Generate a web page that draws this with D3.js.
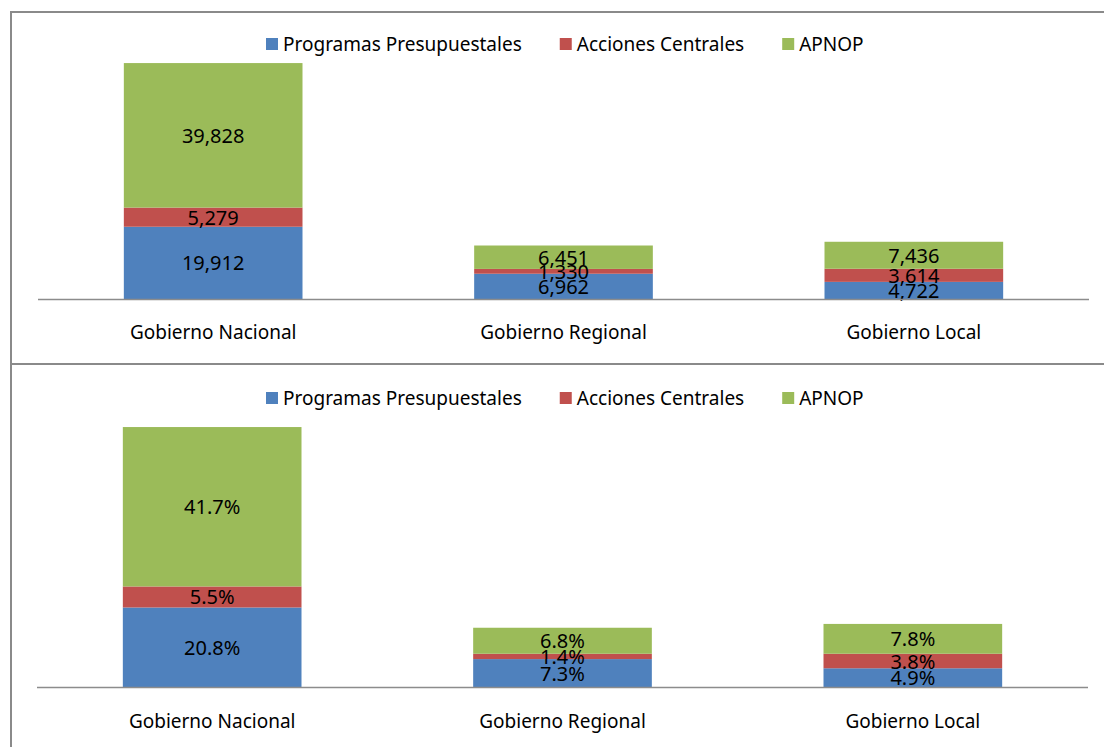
<!DOCTYPE html>
<html>
<head>
<meta charset="utf-8">
<script src="https://cdn.jsdelivr.net/npm/d3@7"></script>
<style>
  html, body { margin: 0; padding: 0; background: #fff; }
  svg { display: block; }
  text { font-family: "Noto Sans", "Open Sans", sans-serif; fill: #000; }
</style>
</head>
<body>
<svg id="chart" width="1104" height="747"></svg>
<script>
// ---- data ----
const categories = ["Gobierno Nacional", "Gobierno Regional", "Gobierno Local"];
const seriesNames = ["Programas Presupuestales", "Acciones Centrales", "APNOP"];
const seriesColors = ["#4F81BD", "#C0504D", "#9BBB59"];

// Top chart: amounts
const programasAmt = [19912, 6962, 4722];
const accionesAmt  = [5279, 1330, 3614];
const apnopAmt     = [39828, 6451, 7436];

// Bottom chart: shares (%)
const programasPct = [20.8, 7.3, 4.9];
const accionesPct  = [5.5, 1.4, 3.8];
const apnopPct     = [41.7, 6.8, 7.8];

const amtMax = 70000;
const pctMax = 70;

const svg = d3.select("#chart");

// panel borders
svg.append("rect").attr("x", 11).attr("y", 12).attr("width", 1110).attr("height", 352)
  .attr("fill", "none").attr("stroke", "#8a8a8a").attr("stroke-width", 2);
svg.append("rect").attr("x", 11).attr("y", 364).attr("width", 1110).attr("height", 400)
  .attr("fill", "none").attr("stroke", "#8a8a8a").attr("stroke-width", 2);

function drawPanel(opts) {
  const { series, max, yBase, yTop, legendY, labelY, fmt, xShift } = opts;
  const g = svg.append("g");

  const rows = categories.map((c, i) => {
    const r = { cat: c };
    seriesNames.forEach((s, k) => r[s] = series[k][i]);
    return r;
  });
  const stacked = d3.stack().keys(seriesNames)(rows);

  const x = d3.scaleBand().domain(categories)
    .range([37 + xShift, 1088 + xShift]).paddingInner(0.49).paddingOuter(0.245);
  const y = d3.scaleLinear().domain([0, max]).range([yBase, yTop]);

  // bars
  stacked.forEach((layer, k) => {
    g.selectAll(null).data(layer).enter().append("rect")
      .attr("x", d => x(d.data.cat))
      .attr("width", x.bandwidth())
      .attr("y", d => y(d[1]))
      .attr("height", d => y(d[0]) - y(d[1]))
      .attr("fill", seriesColors[k]);
  });

  // data labels
  stacked.forEach((layer, k) => {
    g.selectAll(null).data(layer).enter().append("text")
      .attr("x", d => x(d.data.cat) + x.bandwidth() / 2)
      .attr("y", d => (y(d[0]) + y(d[1])) / 2)
      .attr("text-anchor", "middle")
      .attr("dominant-baseline", "central")
      .attr("font-size", 20)
      .text(d => fmt(d.data[seriesNames[k]]));
  });

  // category axis
  const axis = d3.axisBottom(x).tickSize(0).tickPadding(0);
  const ag = g.append("g").attr("transform", `translate(0,${yBase})`).call(axis);
  ag.select(".domain").attr("stroke", "#8c8c8c").attr("stroke-width", 1.5)
    .attr("d", `M${37 + xShift},0.5H${1088 + xShift}`);
  ag.selectAll(".tick text")
    .attr("y", labelY - yBase)
    .attr("dy", null)
    .attr("dominant-baseline", "central")
    .attr("font-size", 19)
    .attr("font-family", "Noto Sans, Open Sans, sans-serif")
    .attr("fill", "#000");

  // legend
  const lg = g.append("g");
  let cx = 266;
  seriesNames.forEach((s, k) => {
    lg.append("rect").attr("x", cx).attr("y", legendY - 6).attr("width", 12).attr("height", 12)
      .attr("fill", seriesColors[k]);
    const t = lg.append("text").attr("x", cx + 17).attr("y", legendY)
      .attr("dominant-baseline", "central").attr("font-size", 19).text(s);
    const w = t.node().getComputedTextLength();
    cx = cx + 17 + w + 38;
  });
}

const fmtAmt = d3.format(",");
const fmtPct = v => v.toFixed(1) + "%";

drawPanel({
  series: [programasAmt, accionesAmt, apnopAmt], max: amtMax,
  yBase: 299, yTop: 45, legendY: 44, labelY: 332, fmt: fmtAmt, xShift: 1
});
drawPanel({
  series: [programasPct, accionesPct, apnopPct], max: pctMax,
  yBase: 687, yTop: 419.4, legendY: 398, labelY: 721, fmt: fmtPct, xShift: 0
});
</script>
</body>
</html>
